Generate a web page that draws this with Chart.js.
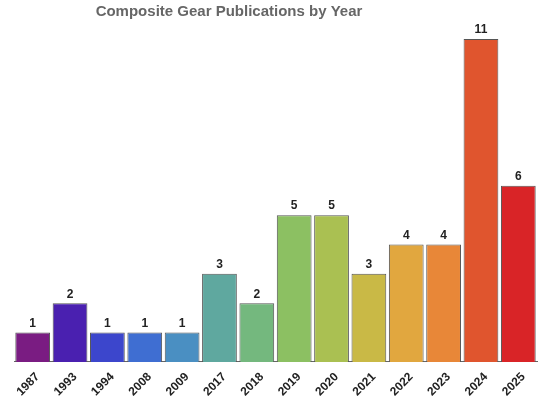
<!DOCTYPE html>
<html>
<head>
<meta charset="utf-8">
<script src="https://cdn.jsdelivr.net/npm/chart.js@4/dist/chart.umd.min.js"></script>
<style>
html,body{margin:0;padding:0;background:#fff;}
#wrap{width:550px;height:399px;position:relative;}
</style>
</head>
<body>
<div id="wrap"><canvas id="c" width="550" height="399"></canvas></div>
<script>
const years = ['1987','1993','1994','2008','2009','2017','2018','2019','2020','2021','2022','2023','2024','2025'];
const counts = [1,2,1,1,1,3,2,5,5,3,4,4,11,6];
const barColors = ['#7a1c82','#4a20b0','#3c46cc','#3f6ed2','#4a8fc2','#5fa89f','#74b87e','#8cc062','#aac052','#c9b946','#e1a73f','#e88738','#e0552e','#d92427'];
const chartTitle = 'Composite Gear Publications by Year';

const valueLabels = {
  id: 'valueLabels',
  afterDatasetsDraw(chart) {
    const ctx = chart.ctx;
    const meta = chart.getDatasetMeta(0);
    ctx.save();
    ctx.font = 'bold 12px "Liberation Sans", Arial, sans-serif';
    ctx.fillStyle = '#222';
    ctx.textAlign = 'center';
    ctx.textBaseline = 'bottom';
    meta.data.forEach((bar, i) => {
      ctx.fillText(String(counts[i]), bar.x, bar.y - 3);
    });
    ctx.restore();
  }
};

const titlePlugin = {
  id: 'customTitle',
  afterDraw(chart) {
    const ctx = chart.ctx;
    ctx.save();
    ctx.font = 'bold 15px "Liberation Sans", Arial, sans-serif';
    ctx.fillStyle = '#666';
    ctx.textAlign = 'center';
    ctx.textBaseline = 'middle';
    ctx.fillText(chartTitle, 229, 12);
    ctx.restore();
  }
};

new Chart(document.getElementById('c'), {
  type: 'bar',
  data: {
    labels: years,
    datasets: [{
      data: counts,
      backgroundColor: barColors,
      borderColor: '#555',
      borderWidth: 1,
      categoryPercentage: 1,
      barPercentage: 0.93
    }]
  },
  options: {
    responsive: false,
    animation: false,
    layout: { padding: { left: 14, right: 13, top: 39, bottom: 0 } },
    plugins: { legend: { display: false }, title: { display: false }, tooltip: { enabled: false } },
    scales: {
      y: { display: false, min: 0, max: 11 },
      x: {
        grid: { display: false },
        border: { display: true, color: '#666', width: 1 },
        ticks: {
          color: '#222',
          font: { family: '"Liberation Sans", Arial, sans-serif', size: 12, weight: 'bold' },
          minRotation: 45,
          maxRotation: 45,
          padding: 0,
          labelOffset: 5
        }
      }
    }
  },
  plugins: [valueLabels, titlePlugin]
});
</script>
</body>
</html>
